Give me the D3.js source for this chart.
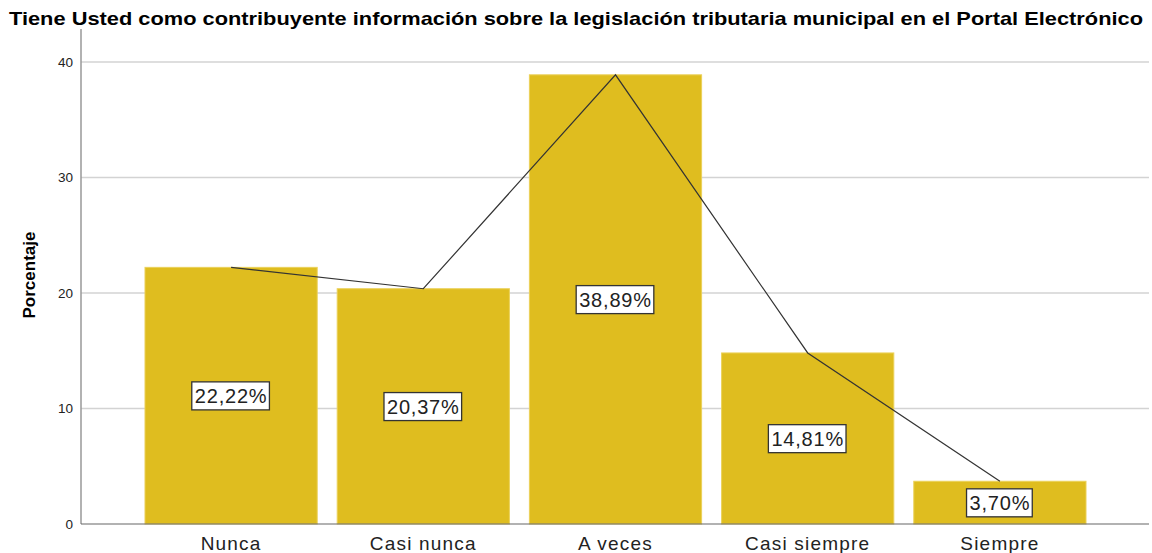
<!DOCTYPE html>
<html><head><meta charset="utf-8">
<script src="https://cdn.jsdelivr.net/npm/d3@7"></script>
<style>body{margin:0;background:#fff}svg{display:block;font-family:"Liberation Sans",Arial,sans-serif}</style>
</head><body><svg id="c" width="1152" height="553"></svg>
<script>
const categories = ["Nunca","Casi nunca","A veces","Casi siempre","Siempre"];
const values = [22.22,20.37,38.89,14.81,3.70];
const labels = ["22,22%","20,37%","38,89%","14,81%","3,70%"];
const yTicks = [0,10,20,30,40];
const title = "Tiene Usted como contribuyente información sobre la legislación tributaria municipal en el Portal Electrónico";
const yTitle = "Porcentaje";

const svg = d3.select("#c");
const x = d3.scaleBand().domain(categories).range([135,1096]).paddingInner(0.104).paddingOuter(0.052);
const y = d3.scaleLinear().domain([0,40]).range([524,62]);
const axL = 81, axR = 1149;

svg.append("text").attr("x",9).attr("y",25).attr("textLength",1134).attr("lengthAdjust","spacingAndGlyphs")
  .attr("font-size",18.5).attr("font-weight","bold").attr("fill","#000").text(title);

// grid
svg.append("g").selectAll("line").data(yTicks.filter(d=>d>0)).join("line")
  .attr("x1",axL).attr("x2",axR).attr("y1",d=>y(d)).attr("y2",d=>y(d))
  .attr("stroke","#d3d3d3").attr("stroke-width",1.5);

// y axis
const ya = svg.append("g").attr("transform",`translate(${axL},0)`)
  .call(d3.axisLeft(y).tickValues(yTicks).tickSize(0).tickPadding(8));
ya.select(".domain").remove();
ya.selectAll("text").attr("font-size",13.5).attr("fill","#222").attr("font-family","Liberation Sans, Arial, sans-serif");
svg.append("line").attr("x1",axL).attr("x2",axL).attr("y1",29).attr("y2",y(0)).attr("stroke","#999").attr("stroke-width",1.5);

// bars
svg.append("g").selectAll("rect").data(categories).join("rect")
  .attr("x",d=>x(d)).attr("width",x.bandwidth())
  .attr("y",(d,i)=>y(values[i])).attr("height",(d,i)=>y(0)-y(values[i]))
  .attr("fill","#DFBD1F").attr("stroke","#EBD15A").attr("stroke-width",1);

// x axis
svg.append("line").attr("x1",axL).attr("x2",axR).attr("y1",y(0)).attr("y2",y(0)).attr("stroke","#666").attr("stroke-width",1.2);
const xa = svg.append("g").attr("transform",`translate(0,${y(0)})`)
  .call(d3.axisBottom(x).tickSize(0).tickPadding(13));
xa.select(".domain").remove();
xa.selectAll("text").attr("font-size",19).attr("letter-spacing",1.2).attr("fill","#222").attr("dy","0.71em").attr("font-family","Liberation Sans, Arial, sans-serif");

// line
svg.append("path").datum(categories)
  .attr("d",d3.line().x(d=>x(d)+x.bandwidth()/2).y(d=>y(values[categories.indexOf(d)])))
  .attr("fill","none").attr("stroke","#333").attr("stroke-width",1.2);

// labels
const lg = svg.append("g").selectAll("g").data(categories).join("g")
  .attr("transform",(d,i)=>`translate(${x(d)+x.bandwidth()/2},${y(values[i]/2)})`);
lg.append("text").attr("text-anchor","middle").attr("dy","0.36em").attr("font-size",20).attr("letter-spacing",0.8).attr("fill","#222")
  .text((d,i)=>labels[i]);
lg.each(function(){
  const g = d3.select(this); const b = g.select("text").node().getBBox();
  g.insert("rect","text").attr("x",b.x-3).attr("y",b.y-3).attr("width",b.width+5).attr("height",b.height+6)
   .attr("fill","#fff").attr("stroke","#333").attr("stroke-width",1.3);
});

svg.append("text").attr("transform","translate(35,275) rotate(-90)").attr("text-anchor","middle")
  .attr("font-size",17).attr("font-weight","bold").attr("fill","#000").text(yTitle);
</script></body></html>
